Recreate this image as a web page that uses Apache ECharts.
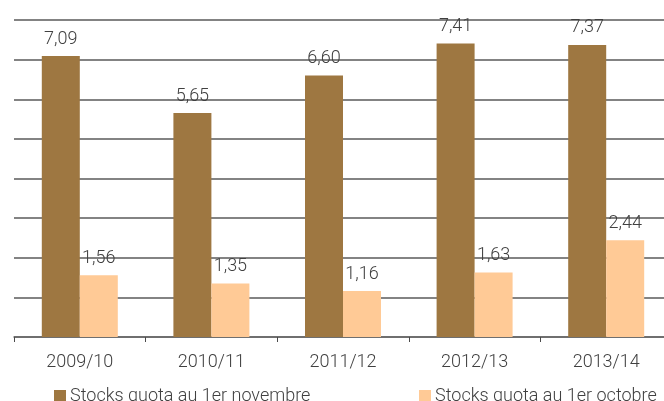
<!DOCTYPE html>
<html>
<head>
<meta charset="utf-8">
<script src="https://cdn.jsdelivr.net/npm/echarts@6/dist/echarts.min.js"></script>
<style>
  html, body { margin: 0; padding: 0; background: #fff; }
  #chart { width: 664px; height: 401px; }
</style>
</head>
<body>
<div id="chart"></div>
<script>
const seasons = ["2009/10", "2010/11", "2011/12", "2012/13", "2013/14"];
const stocksNovembre = [7.09, 5.65, 6.60, 7.41, 7.37];
const stocksOctobre = [1.56, 1.35, 1.16, 1.63, 2.44];
const seriesNames = ["Stocks quota au 1er novembre", "Stocks quota au 1er octobre"];

const FONT = "Roboto, 'DejaVu Sans', sans-serif";
const TEXT_COLOR = "#404040";

function formatValue(value) {
  return Number(value).toFixed(2).replace(".", ",");
}

const labelStyle = {
  show: true,
  position: "top",
  distance: 8,
  fontFamily: FONT,
  fontWeight: 300,
  fontSize: 18,
  color: TEXT_COLOR,
  formatter: (p) => formatValue(p.value),
};

const legendBase = {
  top: 387,
  padding: 0,
  icon: "rect",
  itemWidth: 12,
  itemHeight: 12,
  textStyle: { fontFamily: FONT, fontWeight: 300, fontSize: 18, color: TEXT_COLOR, padding: [0, 0, 0, -1] },
};

const chart = echarts.init(document.getElementById("chart"));
chart.setOption({
  animation: false,
  grid: { left: 14, top: 20, right: -8, bottom: 64, containLabel: false, outerBoundsMode: "none" },
  legend: [
    Object.assign({ data: [seriesNames[0]], left: 54 }, legendBase),
    Object.assign({ data: [seriesNames[1]], left: 419 }, legendBase),
  ],
  xAxis: {
    type: "category",
    data: seasons,
    axisLine: { lineStyle: { color: "#6a6a6a", width: 1.5 } },
    axisTick: { show: true, length: 5, lineStyle: { color: "#4a4a4a" } },
    axisLabel: { fontFamily: FONT, fontWeight: 300, fontSize: 18, color: TEXT_COLOR, margin: 16 },
  },
  yAxis: {
    type: "value",
    min: 0,
    max: 8,
    interval: 1,
    axisLine: { show: false },
    axisTick: { show: false },
    axisLabel: { show: false },
    splitLine: { lineStyle: { color: "#5a5a5a", width: 1.5 } },
  },
  series: [
    {
      name: seriesNames[0],
      type: "bar",
      data: stocksNovembre,
      barWidth: 38,
      barGap: "0%",
      itemStyle: { color: "#9e7741" },
      label: labelStyle,
    },
    {
      name: seriesNames[1],
      type: "bar",
      data: stocksOctobre,
      barWidth: 38,
      itemStyle: { color: "#ffca96" },
      label: labelStyle,
    },
  ],
});
</script>
</body>
</html>
